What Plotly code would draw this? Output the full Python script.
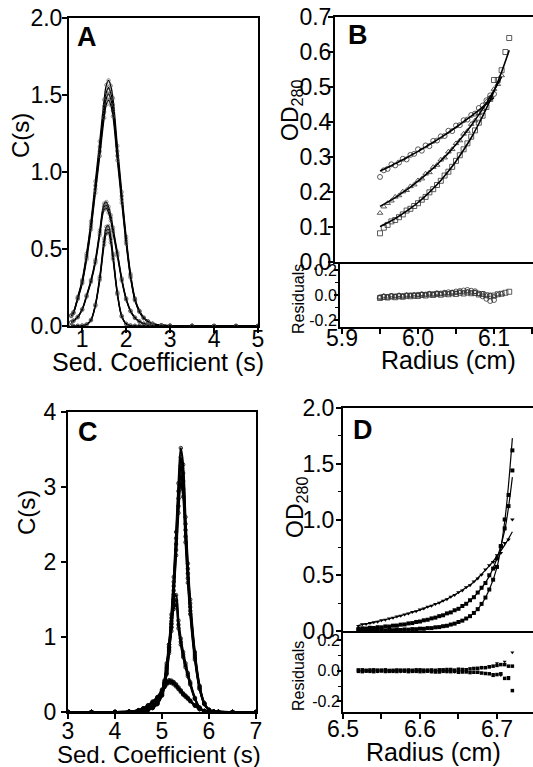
import plotly.graph_objects as go

W, H = 533, 767

# ---------------- Panel A: c(s) distributions ----------------
a_s = [0.75, 0.8, 0.9, 1.0, 1.1, 1.2, 1.3, 1.4, 1.5, 1.55, 1.6, 1.65, 1.7, 1.8, 1.9, 2.0,
       2.1, 2.2, 2.3, 2.4, 2.5, 2.6, 2.8, 3.0, 3.5, 4.0, 4.5, 5.0]
a_high1 = [0.07, 0.09, 0.19, 0.30, 0.47, 0.68, 0.94, 1.20, 1.47, 1.565, 1.595, 1.56, 1.48, 1.17, 0.87, 0.58,
           0.34, 0.18, 0.10, 0.055, 0.03, 0.015, 0.005, 0.002, 0.001, 0, 0, 0]
a_high2 = [0.068, 0.087, 0.184, 0.291, 0.456, 0.66, 0.912, 1.164, 1.426, 1.518, 1.547, 1.513, 1.436, 1.135, 0.844, 0.563,
           0.33, 0.175, 0.097, 0.053, 0.029, 0.015, 0.005, 0.002, 0.001, 0, 0, 0]
a_high3 = [0.066, 0.085, 0.18, 0.284, 0.444, 0.643, 0.888, 1.134, 1.389, 1.479, 1.507, 1.474, 1.399, 1.106, 0.822, 0.548,
           0.321, 0.17, 0.095, 0.052, 0.028, 0.014, 0.005, 0.002, 0.001, 0, 0, 0]
a_high4 = [0.064, 0.083, 0.175, 0.276, 0.432, 0.626, 0.865, 1.104, 1.352, 1.44, 1.467, 1.435, 1.362, 1.076, 0.8, 0.534,
           0.313, 0.166, 0.092, 0.051, 0.028, 0.014, 0.005, 0.002, 0.001, 0, 0, 0]
a_mid1 = [0.025, 0.035, 0.06, 0.11, 0.2, 0.3, 0.43, 0.62, 0.795, 0.805, 0.775, 0.72, 0.64, 0.48, 0.31, 0.18,
          0.10, 0.055, 0.03, 0.015, 0.008, 0.004, 0.001, 0, 0, 0, 0, 0]
a_mid2 = [0.024, 0.034, 0.058, 0.107, 0.195, 0.293, 0.419, 0.605, 0.775, 0.785, 0.756, 0.702, 0.624, 0.468, 0.302, 0.176,
          0.098, 0.054, 0.029, 0.015, 0.008, 0.004, 0.001, 0, 0, 0, 0, 0]
a_mid3 = [0.024, 0.033, 0.057, 0.105, 0.19, 0.285, 0.409, 0.589, 0.755, 0.765, 0.736, 0.684, 0.608, 0.456, 0.295, 0.171,
          0.095, 0.052, 0.029, 0.014, 0.008, 0.004, 0.001, 0, 0, 0, 0, 0]
a_low1 = [0, 0, 0.001, 0.003, 0.01, 0.04, 0.14, 0.32, 0.567, 0.644, 0.65, 0.583, 0.469, 0.22, 0.066, 0.014,
          0.003, 0.001, 0, 0, 0, 0, 0, 0, 0, 0, 0, 0]
a_low2 = [0, 0, 0.001, 0.003, 0.01, 0.039, 0.135, 0.309, 0.547, 0.621, 0.627, 0.563, 0.453, 0.212, 0.064, 0.014,
          0.003, 0.001, 0, 0, 0, 0, 0, 0, 0, 0, 0, 0]
a_low3 = [0, 0, 0.001, 0.003, 0.009, 0.037, 0.13, 0.298, 0.527, 0.599, 0.605, 0.542, 0.436, 0.205, 0.061, 0.013,
          0.003, 0.001, 0, 0, 0, 0, 0, 0, 0, 0, 0, 0]
a_curves = [a_high1, a_high2, a_high3, a_high4, a_mid1, a_mid2, a_mid3, a_low1, a_low2, a_low3]

# ---------------- Panel C: c(s) distributions ----------------
c_s = [3.0, 3.5, 4.0, 4.3, 4.5, 4.6, 4.7, 4.8, 4.9, 5.0, 5.05, 5.1, 5.15, 5.2, 5.25, 5.3, 5.35, 5.4,
       5.45, 5.5, 5.55, 5.6, 5.7, 5.8, 5.9, 6.0, 6.1, 6.2, 6.5, 7.0]
c_high1 = [0, 0, 0, 0.002, 0.007, 0.015, 0.03, 0.06, 0.12, 0.25, 0.38, 0.58, 0.9, 1.3, 1.8, 2.4, 3.05, 3.52,
           3.3, 2.6, 1.98, 1.5, 0.8, 0.35, 0.12, 0.03, 0.008, 0.002, 0, 0]
c_high2 = [0, 0, 0, 0.002, 0.007, 0.014, 0.029, 0.058, 0.116, 0.241, 0.367, 0.56, 0.869, 1.255, 1.737, 2.316, 2.943, 3.397,
           3.185, 2.509, 1.911, 1.448, 0.772, 0.338, 0.116, 0.029, 0.008, 0.002, 0, 0]
c_high3 = [0, 0, 0, 0.002, 0.007, 0.014, 0.028, 0.056, 0.112, 0.233, 0.355, 0.541, 0.84, 1.213, 1.679, 2.239, 2.846, 3.284,
           3.079, 2.426, 1.847, 1.4, 0.746, 0.327, 0.112, 0.028, 0.007, 0.002, 0, 0]
c_high4 = [0, 0, 0, 0.002, 0.006, 0.014, 0.027, 0.054, 0.108, 0.225, 0.342, 0.522, 0.81, 1.17, 1.62, 2.16, 2.745, 3.168,
           2.97, 2.34, 1.782, 1.35, 0.72, 0.315, 0.108, 0.027, 0.007, 0.002, 0, 0]
c_high5 = [0, 0, 0, 0.002, 0.006, 0.013, 0.026, 0.052, 0.104, 0.218, 0.331, 0.505, 0.783, 1.131, 1.566, 2.088, 2.654, 3.062,
           2.871, 2.262, 1.723, 1.305, 0.696, 0.305, 0.104, 0.026, 0.007, 0.002, 0, 0]
c_mid1 = [0, 0, 0, 0.003, 0.012, 0.025, 0.05, 0.09, 0.15, 0.28, 0.42, 0.65, 0.9, 1.18, 1.5, 1.56, 1.22, 0.98,
          0.8, 0.65, 0.52, 0.4, 0.19, 0.06, 0.015, 0.003, 0, 0, 0, 0]
c_mid2 = [0, 0, 0, 0.003, 0.011, 0.024, 0.048, 0.086, 0.143, 0.267, 0.401, 0.621, 0.86, 1.127, 1.433, 1.49, 1.165, 0.936,
          0.764, 0.621, 0.497, 0.382, 0.181, 0.057, 0.014, 0.003, 0, 0, 0, 0]
c_mid3 = [0, 0, 0, 0.003, 0.011, 0.023, 0.046, 0.082, 0.137, 0.256, 0.384, 0.595, 0.824, 1.08, 1.373, 1.427, 1.116, 0.897,
          0.732, 0.595, 0.476, 0.366, 0.174, 0.055, 0.014, 0.003, 0, 0, 0, 0]
c_low1 = [0, 0, 0.001, 0.005, 0.025, 0.05, 0.09, 0.14, 0.2, 0.3, 0.36, 0.4, 0.425, 0.42, 0.4, 0.37, 0.33, 0.29,
          0.25, 0.22, 0.19, 0.155, 0.09, 0.04, 0.012, 0.003, 0, 0, 0, 0]
c_low2 = [0, 0, 0.001, 0.005, 0.024, 0.048, 0.086, 0.134, 0.192, 0.288, 0.346, 0.384, 0.408, 0.403, 0.384, 0.355, 0.317, 0.278,
          0.24, 0.211, 0.182, 0.149, 0.086, 0.038, 0.012, 0.003, 0, 0, 0, 0]
c_low3 = [0, 0, 0.001, 0.005, 0.023, 0.046, 0.083, 0.129, 0.184, 0.276, 0.331, 0.368, 0.391, 0.386, 0.368, 0.34, 0.304, 0.267,
          0.23, 0.202, 0.175, 0.143, 0.083, 0.037, 0.011, 0.003, 0, 0, 0, 0]
c_curves = [c_high1, c_high2, c_high3, c_high4, c_high5, c_mid1, c_mid2, c_mid3, c_low1, c_low2, c_low3]

# ---------------- Panel B: equilibrium data ----------------
b_fit_r = [5.95, 5.96, 5.97, 5.98, 5.99, 6.00, 6.01, 6.02, 6.03, 6.04, 6.05, 6.06, 6.07, 6.08, 6.09, 6.10, 6.11, 6.12]
b_fit1 = [0.260, 0.270, 0.281, 0.292, 0.304, 0.316, 0.329, 0.342, 0.356, 0.370, 0.385, 0.401, 0.417, 0.434, 0.452, 0.470]
b_fit2 = [0.159, 0.171, 0.184, 0.199, 0.214, 0.231, 0.249, 0.268, 0.289, 0.311, 0.336, 0.362, 0.390, 0.421, 0.454, 0.490, 0.529]
b_fit3 = [0.101, 0.112, 0.124, 0.138, 0.153, 0.170, 0.189, 0.210, 0.233, 0.259, 0.288, 0.320, 0.355, 0.395, 0.439, 0.488, 0.543, 0.605]

b_r = [5.950, 5.955, 5.960, 5.965, 5.970, 5.975, 5.980, 5.985, 5.990, 5.995, 6.000, 6.005, 6.010, 6.015,
       6.020, 6.025, 6.030, 6.035, 6.040, 6.045, 6.050, 6.055, 6.060, 6.065, 6.070, 6.075, 6.080, 6.085,
       6.090, 6.095, 6.100, 6.105, 6.110, 6.115, 6.120]
b_data1 = [0.243, 0.262, 0.266, 0.279, 0.276, 0.284, 0.295, 0.293, 0.306, 0.309, 0.322, 0.318, 0.333, 0.331,
           0.346, 0.347, 0.359, 0.360, 0.375, 0.374, 0.390, 0.391, 0.405, 0.407, 0.420, 0.424, 0.440, 0.447,
           0.462, 0.476, 0.480]
b_data2 = [0.140, 0.158, 0.168, 0.175, 0.186, 0.190, 0.201, 0.205, 0.216, 0.221, 0.233, 0.238, 0.252, 0.256,
           0.271, 0.277, 0.292, 0.298, 0.315, 0.322, 0.339, 0.347, 0.366, 0.374, 0.394, 0.404, 0.425, 0.436,
           0.458, 0.470, 0.494, 0.508, 0.533]
b_data3 = [0.082, 0.098, 0.106, 0.116, 0.120, 0.128, 0.136, 0.147, 0.152, 0.160, 0.168, 0.178, 0.186, 0.199,
           0.208, 0.220, 0.232, 0.247, 0.258, 0.272, 0.289, 0.305, 0.322, 0.339, 0.358, 0.376, 0.398, 0.418,
           0.443, 0.466, 0.520, 0.520, 0.548, 0.600, 0.640]
b_res1 = [-0.018, -0.012, -0.016, -0.008, -0.012, -0.006, -0.010, -0.004, -0.002, -0.006, 0.002, 0.006, 0.004, 0.010,
          0.008, 0.014, 0.012, 0.018, 0.022, 0.020, 0.028, 0.032, 0.036, 0.040, 0.034, 0.030, 0.012, -0.010,
          -0.030, -0.048, -0.040]
b_res2 = [-0.020, -0.008, -0.014, -0.004, -0.010, -0.002, -0.008, 0.000, -0.004, 0.004, -0.002, 0.006, 0.002, 0.010,
          0.004, 0.012, 0.008, 0.016, 0.010, 0.020, 0.014, 0.024, 0.018, 0.026, 0.016, 0.022, 0.006, 0.010,
          -0.006, 0.000, -0.012, 0.004, 0.010]
b_res3 = [-0.024, -0.016, -0.020, -0.012, -0.018, -0.010, -0.014, -0.006, -0.010, -0.004, -0.008, 0.000, -0.004, 0.004,
          0.000, 0.008, 0.002, 0.010, 0.006, 0.014, 0.008, 0.018, 0.012, 0.020, 0.014, 0.016, 0.004, 0.008,
          -0.002, -0.010, -0.004, 0.006, 0.010, 0.018, 0.026]

# ---------------- Panel D: equilibrium data ----------------
d_fit_r = [6.52, 6.53, 6.54, 6.55, 6.56, 6.57, 6.58, 6.59, 6.60, 6.61, 6.62, 6.63, 6.64, 6.65, 6.66, 6.67,
           6.68, 6.69, 6.70, 6.71, 6.72]
d_fit1 = [0.05, 0.063, 0.078, 0.094, 0.11, 0.128, 0.148, 0.168, 0.19, 0.215, 0.24, 0.27, 0.305, 0.345, 0.39, 0.44,
          0.51, 0.585, 0.67, 0.77, 0.89]
d_fit2 = [0.02, 0.024, 0.029, 0.035, 0.042, 0.05, 0.06, 0.072, 0.086, 0.102, 0.12, 0.142, 0.168, 0.2, 0.245, 0.305,
          0.385, 0.49, 0.65, 0.9, 1.38]
d_fit3 = [0.005, 0.005, 0.006, 0.007, 0.008, 0.01, 0.012, 0.015, 0.019, 0.024, 0.031, 0.041, 0.056, 0.08, 0.11, 0.16,
          0.24, 0.37, 0.57, 0.98, 1.73]

d_r = [6.520, 6.525, 6.530, 6.535, 6.540, 6.545, 6.550, 6.555, 6.560, 6.565, 6.570, 6.575, 6.580, 6.585,
       6.590, 6.595, 6.600, 6.605, 6.610, 6.615, 6.620, 6.625, 6.630, 6.635, 6.640, 6.645, 6.650, 6.655,
       6.660, 6.665, 6.670, 6.675, 6.680, 6.685, 6.690, 6.695, 6.700, 6.705, 6.710, 6.715, 6.720]
d_data1 = [0.045, 0.060, 0.062, 0.072, 0.079, 0.084, 0.096, 0.100, 0.112, 0.118, 0.130, 0.136, 0.149, 0.156,
           0.170, 0.178, 0.192, 0.201, 0.217, 0.226, 0.243, 0.253, 0.272, 0.285, 0.307, 0.323, 0.348, 0.364,
           0.392, 0.410, 0.444, 0.470, 0.505, 0.552, 0.590, 0.618, 0.680, 0.700, 0.790, 0.820, 1.000]
d_data2 = [0.018, 0.024, 0.022, 0.029, 0.027, 0.034, 0.033, 0.041, 0.040, 0.048, 0.049, 0.057, 0.059, 0.068,
           0.071, 0.081, 0.085, 0.096, 0.101, 0.113, 0.120, 0.133, 0.141, 0.158, 0.167, 0.186, 0.199, 0.224,
           0.244, 0.276, 0.303, 0.345, 0.388, 0.430, 0.500, 0.560, 0.650, 0.760, 0.920, 1.120, 1.440]
d_data3 = [0.008, 0.002, 0.007, 0.003, 0.008, 0.004, 0.009, 0.005, 0.010, 0.007, 0.012, 0.009, 0.014, 0.012,
           0.017, 0.016, 0.021, 0.020, 0.026, 0.026, 0.033, 0.035, 0.043, 0.047, 0.058, 0.066, 0.081, 0.093,
           0.112, 0.133, 0.162, 0.196, 0.243, 0.300, 0.372, 0.460, 0.575, 0.760, 1.000, 1.220, 1.620]
d_res1 = [0.008, -0.004, 0.006, -0.002, 0.004, -0.006, 0.002, -0.004, 0.006, -0.002, 0.004, -0.006, 0.002, -0.003,
          0.005, -0.004, 0.003, -0.005, 0.004, -0.006, 0.006, -0.004, 0.008, -0.006, 0.005, -0.008, 0.010, -0.006,
          0.012, -0.010, 0.015, -0.012, 0.020, -0.015, 0.030, -0.020, 0.050, -0.030, 0.060, -0.040, 0.120]
d_res2 = [0.005, -0.006, 0.003, -0.004, 0.006, -0.003, 0.004, -0.005, 0.002, -0.004, 0.005, -0.002, 0.004, -0.006,
          0.003, -0.004, 0.006, -0.005, 0.004, -0.006, 0.003, -0.008, 0.006, -0.005, 0.008, -0.004, 0.010, -0.008,
          0.006, -0.012, 0.015, -0.010, 0.020, -0.018, 0.025, -0.030, 0.035, -0.020, 0.040, -0.050, 0.030]
d_res3 = [-0.004, 0.006, -0.003, 0.005, -0.006, 0.004, -0.002, 0.006, -0.004, 0.003, -0.005, 0.004, -0.003, 0.005,
          -0.004, 0.006, -0.006, 0.004, -0.003, 0.005, -0.008, 0.006, -0.004, 0.008, -0.006, 0.004, -0.010, 0.008,
          -0.008, 0.012, -0.010, 0.016, -0.015, 0.020, -0.020, 0.030, -0.025, 0.040, -0.050, 0.030, -0.130]

# ---------------- helpers ----------------
def px(x):
    return x / W


def py(y):
    return 1 - y / H


FONT = "Liberation Sans, Arial, sans-serif"
fig = go.Figure()

# Panel A
for yv in a_curves:
    fig.add_trace(go.Scatter(x=a_s, y=yv, mode="lines+markers", line=dict(color="black", width=1.3, shape="spline"),
                             marker=dict(symbol="circle-open", size=3.5, color="#555", line=dict(width=0.6)),
                             xaxis="x", yaxis="y", showlegend=False))
# Panel C
for yv in c_curves:
    fig.add_trace(go.Scatter(x=c_s, y=yv, mode="lines+markers", line=dict(color="black", width=2, shape="spline"),
                             marker=dict(symbol="circle-open", size=3.5, color="black", line=dict(width=0.8)),
                             xaxis="x4", yaxis="y4", showlegend=False))

# Panel B
b_sets = [(b_data1, b_res1, "circle-open"), (b_data2, b_res2, "triangle-up-open"), (b_data3, b_res3, "square-open")]
for data, res, sym in b_sets:
    n = len(data)
    fig.add_trace(go.Scatter(x=b_r[:n], y=data, mode="markers",
                             marker=dict(symbol=sym, size=5, color="#333", line=dict(width=0.8)),
                             xaxis="x2", yaxis="y2", showlegend=False))
    fig.add_trace(go.Scatter(x=b_r[:n], y=res, mode="markers",
                             marker=dict(symbol=sym, size=5, color="#333", line=dict(width=0.8)),
                             xaxis="x3", yaxis="y3", showlegend=False))
for fit in [b_fit1, b_fit2, b_fit3]:
    fig.add_trace(go.Scatter(x=b_fit_r[:len(fit)], y=fit, mode="lines", line=dict(color="black", width=1.6, shape="spline"),
                             xaxis="x2", yaxis="y2", showlegend=False))

# Panel D
d_sets = [(d_data1, d_res1, "triangle-down"), (d_data2, d_res2, "square"), (d_data3, d_res3, "square")]
for data, res, sym in d_sets:
    fig.add_trace(go.Scatter(x=d_r, y=data, mode="markers",
                             marker=dict(symbol=sym, size=4, color="black"),
                             xaxis="x5", yaxis="y5", showlegend=False))
    fig.add_trace(go.Scatter(x=d_r, y=res, mode="markers",
                             marker=dict(symbol=sym, size=3.5, color="black"),
                             xaxis="x6", yaxis="y6", showlegend=False))
for fit in [d_fit1, d_fit2, d_fit3]:
    fig.add_trace(go.Scatter(x=d_fit_r, y=fit, mode="lines", line=dict(color="black", width=1.2, shape="spline"),
                             xaxis="x5", yaxis="y5", showlegend=False))

AX = dict(showline=True, linecolor="black", linewidth=2, ticks="outside", ticklen=5, tickwidth=1.5,
          tickcolor="black", showgrid=False, zeroline=False, automargin=False,
          tickfont=dict(family=FONT, size=23, color="black"))
RES = dict(AX, tickfont=dict(family=FONT, size=16, color="black"), ticklen=4)

fig.update_layout(
    template="none",
    width=W, height=H, margin=dict(l=0, r=0, t=0, b=0, pad=0, autoexpand=False),
    paper_bgcolor="white", plot_bgcolor="white",
    font=dict(family=FONT, color="black"),
    xaxis=dict(AX, domain=[px(69), px(258)], range=[0.7, 5.0], tickvals=[1, 2, 3, 4, 5], mirror=True, anchor="y",
               ticklabelstandoff=-14),
    yaxis=dict(AX, domain=[py(326), py(18)], range=[0, 2.0], tickvals=[0, 0.5, 1.0, 1.5, 2.0], tickformat=".1f",
               mirror=True, anchor="x", ticklabelstandoff=-5),
    xaxis2=dict(AX, domain=[px(335), 1], range=[5.8908, 6.1513], ticks="", showticklabels=False, mirror=True,
                anchor="y2"),
    yaxis2=dict(AX, domain=[py(262), py(17)], range=[0, 0.7], dtick=0.1, tickformat=".1f", mirror=True, anchor="x2",
                ticklabelstandoff=-8),
    xaxis3=dict(AX, domain=[px(340), 1], range=[5.8974, 6.1513], tickvals=[5.9, 6.0, 6.1], ticktext=["5.9", "6.0", "6.1"],
                minor=dict(dtick=0.05, tick0=5.9, ticks="outside", ticklen=5, tickwidth=1.5, tickcolor="black"),
                anchor="y3", ticklabelstandoff=-16),
    yaxis3=dict(RES, domain=[py(327), py(262)], range=[-0.256, 0.264], tickvals=[-0.2, 0, 0.2],
                ticktext=["-0.2", "0.0", "0.2"],
                minor=dict(dtick=0.1, tick0=0, ticks="outside", ticklen=3, tickwidth=1.2, tickcolor="black"),
                anchor="x3", ticklabelstandoff=-6),
    xaxis4=dict(AX, domain=[px(68), px(256)], range=[3, 7], tickvals=[3, 4, 5, 6, 7], mirror=True, anchor="y4",
                ticklabelstandoff=-8),
    yaxis4=dict(AX, domain=[py(712), py(412)], range=[0, 4], tickvals=[0, 1, 2, 3, 4], mirror=True, anchor="x4",
                ticklabelstandoff=0),
    xaxis5=dict(AX, domain=[px(343), 1], range=[6.5, 6.7468], ticks="", showticklabels=False, mirror=True,
                anchor="y5"),
    yaxis5=dict(AX, domain=[py(631), py(408)], range=[0, 2.0], tickvals=[0, 0.5, 1.0, 1.5, 2.0], tickformat=".1f",
                minor=dict(dtick=0.25, tick0=0, ticks="outside", ticklen=3, tickwidth=1.2, tickcolor="black"),
                mirror=True, anchor="x5", ticklabelstandoff=-3),
    xaxis6=dict(AX, domain=[px(343), 1], range=[6.5, 6.7468], tickvals=[6.5, 6.6, 6.7], ticktext=["6.5", "6.6", "6.7"],
                minor=dict(dtick=0.05, tick0=6.5, ticks="outside", ticklen=5, tickwidth=1.5, tickcolor="black"),
                anchor="y6", ticklabelstandoff=-10),
    yaxis6=dict(RES, domain=[py(712), py(631)], range=[-0.27, 0.26], tickvals=[-0.2, 0, 0.2],
                ticktext=["-0.2", "0.0", "0.2"],
                minor=dict(dtick=0.1, tick0=0, ticks="outside", ticklen=3, tickwidth=1.2, tickcolor="black"),
                anchor="x6", ticklabelstandoff=-6),
)

ann = []


def label(text, x, y, size, angle=0, bold=False):
    t = "<b>%s</b>" % text if bold else text
    ann.append(dict(text=t, x=px(x), y=py(y), xref="paper", yref="paper", xanchor="center", yanchor="middle",
                    showarrow=False, textangle=angle, font=dict(family=FONT, size=size, color="black")))


label("A", 87, 37, 27, bold=True)
label("B", 358, 35, 27, bold=True)
label("C", 88, 432, 27, bold=True)
label("D", 363, 430, 27, bold=True)
label("Sed. Coefficient (s)", 158, 362, 25)
label("Sed. Coefficient (s)", 159, 754, 24)
label("Radius (cm)", 448, 360, 25)
label("Radius (cm)", 433, 752, 25)
label("C(s)", 20, 136, 24, angle=-90)
label("C(s)", 26, 513, 24, angle=-90)
label("OD<sub>280</sub>", 292, 111, 23, angle=-90)
label("OD<sub>280</sub>", 296, 508, 23, angle=-90)
label("Residuals", 298, 299, 16, angle=-90)
label("Residuals", 298, 676, 16, angle=-90)
fig.update_layout(annotations=ann)

fig.write_html("out.html", config={"displayModeBar": False},
               post_script="document.body.style.margin='0px';document.body.style.overflow='hidden';")
